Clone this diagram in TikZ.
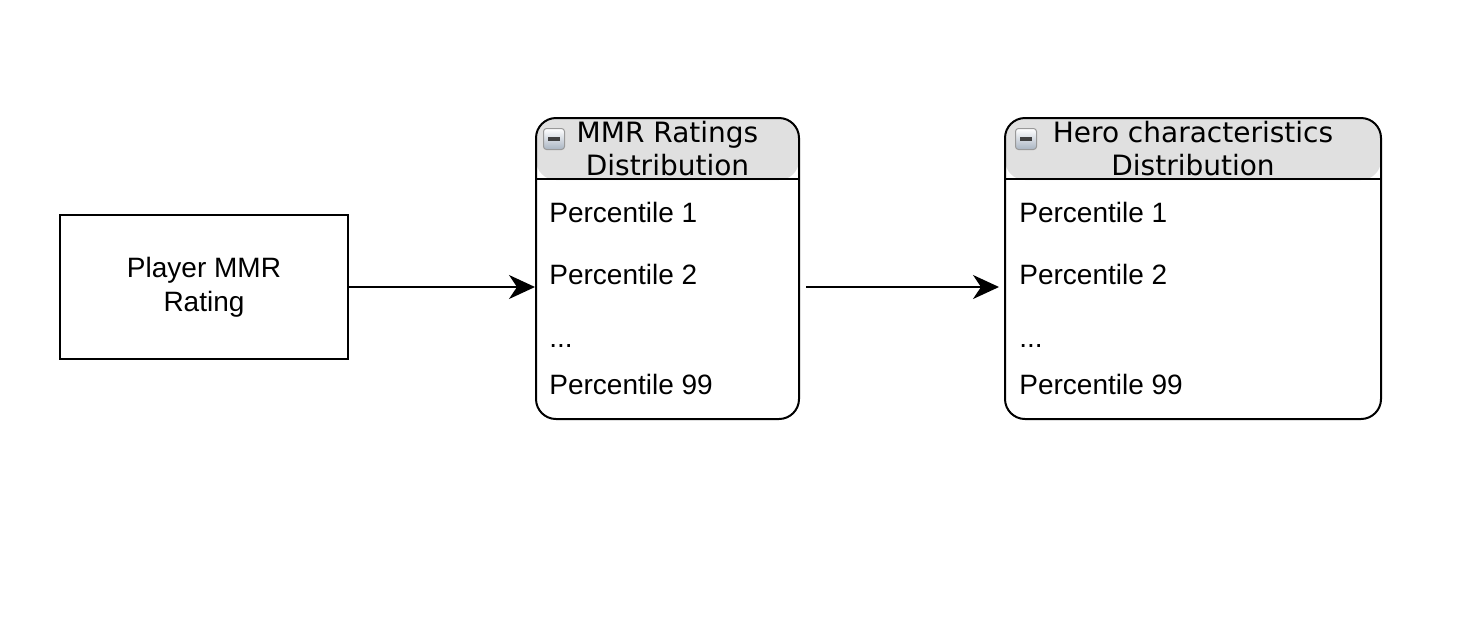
\documentclass[tikz,border=0pt]{standalone}
\usepackage{fontspec}
\setmainfont{Liberation Sans}
\newfontfamily\hdrfont{DejaVu Sans}
\usepackage{tikz}
\usetikzlibrary{positioning,%
  arrows.meta%
}
\definecolor{hdrgray}{HTML}{E0E0E0}
\definecolor{icongray}{HTML}{A9B4C2}

\begin{document}
\begin{tikzpicture}[x=0.5pt,y=-0.5pt,
    every node/.style={font=\fontsize{14}{16}\selectfont},
    plainbox/.style={draw,line width=1pt,minimum width=144pt,minimum height=72pt,align=center,inner sep=0pt,
      font=\fontsize{14}{17}\selectfont},
    listbox/.style={draw,line width=1pt,rounded corners=10pt,minimum height=150.5pt,inner sep=0pt,
      path picture={\fill[hdrgray] (path picture bounding box.north west) rectangle ([yshift=-31pt]path picture bounding box.north east);}},
    hdrtext/.style={font=\hdrfont\fontsize{14}{16.5}\selectfont,align=center,inner sep=0pt},
    item/.style={anchor=base west,inner sep=0pt},
    minusicon/.style={draw=gray!80,line width=0.5pt,rounded corners=1.5pt,minimum size=10.5pt,inner sep=0pt,top color=white,bottom color=icongray},
    link/.style={line width=1pt,-{Stealth[length=13pt,width=12pt,inset=4pt]}}]
            \useasboundingbox (0,0) rectangle (1476,622);

            \node[plainbox] (player) at (204,287) {Player MMR\\Rating};

            % first list
            \node[listbox,minimum width=131.5pt] (mmr) at (667.5,268.5) {};
            \draw[line width=1pt] ([yshift=-31pt]mmr.north west) -- ([yshift=-31pt]mmr.north east);
            \node[minusicon] (mmricon) at (554,139) {};
            \draw[line width=2pt,black!75] ([xshift=-3pt]mmricon.center) -- ([xshift=3pt]mmricon.center);
            \node[hdrtext] (mmrhead) at (667.5,149) {MMR Ratings\\Distribution};
            \node[item] (mmrp1) at (549,222) {Percentile 1};
            \node[item] (mmrp2) at (549,284) {Percentile 2};
            \node[item] (mmrdots) at (549,347) {...};
            \node[item] (mmrp99) at (549,394) {Percentile 99};

            % second list
            \node[listbox,minimum width=188pt] (hero) at (1193,268.5) {};
            \draw[line width=1pt] ([yshift=-31pt]hero.north west) -- ([yshift=-31pt]hero.north east);
            \node[minusicon] (heroicon) at (1026,139) {};
            \draw[line width=2pt,black!75] ([xshift=-3pt]heroicon.center) -- ([xshift=3pt]heroicon.center);
            \node[hdrtext] (herohead) at (1193,149) {Hero characteristics\\Distribution};
            \node[item] (herop1) at (1019,222) {Percentile 1};
            \node[item] (herop2) at (1019,284) {Percentile 2};
            \node[item] (herodots) at (1019,347) {...};
            \node[item] (herop99) at (1019,394) {Percentile 99};

            \draw[link] (player.east) -- (player.east -| mmr.west);
            \draw[link] ([xshift=3pt]mmr.east |- player.east) -- ([xshift=-2.5pt]hero.west |- player.east);
        \end{tikzpicture}
\end{document}
